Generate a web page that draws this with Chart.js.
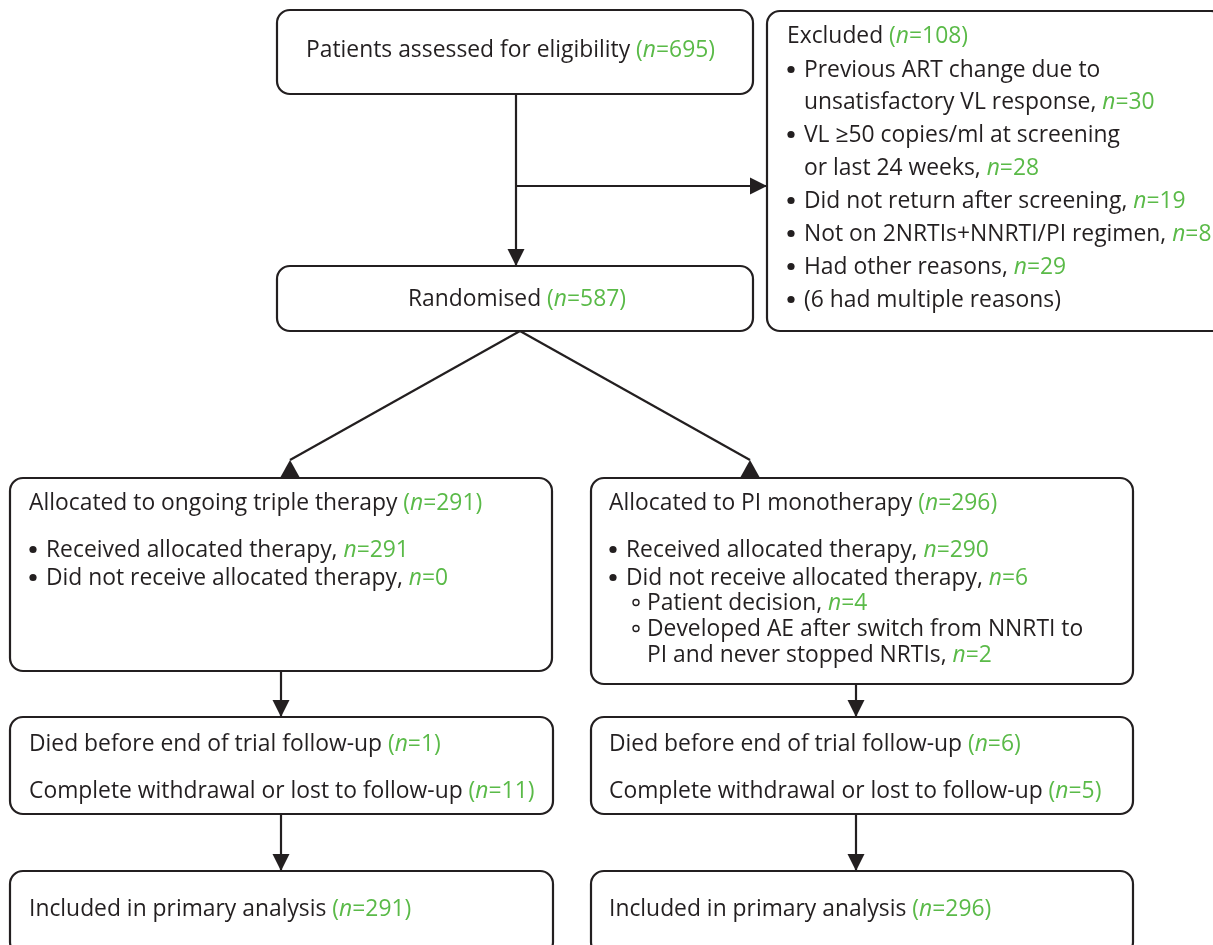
<!DOCTYPE html>
<html>
<head>
<meta charset="utf-8">
<script src="https://cdn.jsdelivr.net/npm/chart.js@4/dist/chart.umd.min.js"></script>
<style>
  html, body { margin: 0; padding: 0; background: #fff; }
  canvas { display: block; }
</style>
</head>
<body>
<canvas id="flow" width="1213" height="945"></canvas>
<script>
// box texts ("• " = bullet, "◦ " = sub bullet, "  " = continuation)
var eligibilityLines = ['Patients assessed for eligibility (n=695)'];
var excludedLines = [
	'Excluded (n=108)',
	'• Previous ART change due to',
	'  unsatisfactory VL response, n=30',
	'• VL \u226550 copies/ml at screening',
	'  or last 24 weeks, n=28',
	'• Did not return after screening, n=19',
	'• Not on 2NRTIs+NNRTI/PI regimen, n=8',
	'• Had other reasons, n=29',
	'• (6 had multiple reasons)'
];
var randomisedLines = ['Randomised (n=587)'];
var tripleLines = [
	'Allocated to ongoing triple therapy (n=291)',
	'• Received allocated therapy, n=291',
	'• Did not receive allocated therapy, n=0'
];
var monoLines = [
	'Allocated to PI monotherapy (n=296)',
	'• Received allocated therapy, n=290',
	'• Did not receive allocated therapy, n=6',
	'◦ Patient decision, n=4',
	'◦ Developed AE after switch from NNRTI to',
	'   PI and never stopped NRTIs, n=2'
];
var tripleFollowLines = ['Died before end of trial follow-up (n=1)', 'Complete withdrawal or lost to follow-up (n=11)'];
var monoFollowLines = ['Died before end of trial follow-up (n=6)', 'Complete withdrawal or lost to follow-up (n=5)'];
var tripleAnalysisLines = ['Included in primary analysis (n=291)'];
var monoAnalysisLines = ['Included in primary analysis (n=296)'];

// layout in chart units (x 0..1213, y 0..945 top down)
var boxes = [
	{ r: [277, 10, 753, 94], lines: eligibilityLines, x: 306, ys: [57] },
	{ r: [767, 11, 1224, 331], lines: excludedLines, x: 787, ys: [43, 77, 109, 142, 175, 208, 241, 274, 307] },
	{ r: [277, 266, 753, 331], lines: randomisedLines, x: 517, ys: [306], center: true },
	{ r: [10, 478, 552, 671], lines: tripleLines, x: 29, ys: [510, 557, 585] },
	{ r: [591, 478, 1133, 684], lines: monoLines, x: 609, ys: [510, 557, 585, 610, 636, 662] },
	{ r: [10, 717, 553, 814], lines: tripleFollowLines, x: 29, ys: [751, 798] },
	{ r: [591, 717, 1133, 814], lines: monoFollowLines, x: 609, ys: [751, 798] },
	{ r: [10, 871, 553, 955], lines: tripleAnalysisLines, x: 29, ys: [916] },
	{ r: [591, 871, 1133, 955], lines: monoAnalysisLines, x: 609, ys: [916] }
];
// arrows: [x0, y0, x1, y1, head style]
var arrows = [
	[516, 94, 516, 266, 'line'],
	[516, 186, 767, 186, 'line'],
	[520, 331, 290, 460, 'up'],
	[520, 331, 750, 460, 'up'],
	[281, 671, 281, 717, 'line'],
	[856, 684, 856, 717, 'line'],
	[281, 814, 281, 871, 'line'],
	[856, 814, 856, 871, 'line']
];

var INK = '#231f20';
var GREEN = '#5aba48';
var FONT = '"Open Sans", "Noto Sans", sans-serif';
var SIZE = 23;
var refText = 'Patients assessed for eligibility (n=695)';
var refWidth = 409;
var squeeze = 1;

function parts(str) {
	var m = str.match(/^(.*?)(\(?)n(=\d+)(\)?)$/);
	if (!m) return [[str, INK, false]];
	return [[m[1], INK, false], [m[2], GREEN, false], ['n', GREEN, true], [m[3] + m[4], GREEN, false]];
}

function setFont(ctx, italic) {
	ctx.font = (italic ? 'italic ' : '') + SIZE + 'px ' + FONT;
}

function richWidth(ctx, str) {
	var w = 0;
	parts(str).forEach(function(p) {
		setFont(ctx, p[2]);
		w += ctx.measureText(p[0]).width;
	});
	return w;
}

function drawRich(ctx, str, x, y, center) {
	var w = richWidth(ctx, str) * squeeze;
	if (center) x = x - w / 2;
	ctx.save();
	ctx.translate(x, y);
	ctx.scale(squeeze, 1);
	var cx = 0;
	parts(str).forEach(function(p) {
		setFont(ctx, p[2]);
		ctx.fillStyle = p[1];
		ctx.fillText(p[0], cx, 0);
		cx += ctx.measureText(p[0]).width;
	});
	ctx.restore();
}

function roundBox(ctx, x0, y0, x1, y1, rad) {
	ctx.beginPath();
	ctx.moveTo(x0 + rad, y0);
	ctx.lineTo(x1 - rad, y0);
	ctx.arcTo(x1, y0, x1, y0 + rad, rad);
	ctx.lineTo(x1, y1 - rad);
	ctx.arcTo(x1, y1, x1 - rad, y1, rad);
	ctx.lineTo(x0 + rad, y1);
	ctx.arcTo(x0, y1, x0, y1 - rad, rad);
	ctx.lineTo(x0, y0 + rad);
	ctx.arcTo(x0, y0, x0 + rad, y0, rad);
	ctx.closePath();
	ctx.stroke();
}

var flowPlugin = {
	id: 'flow',
	afterDraw: function(chart) {
		var ctx = chart.ctx;
		var xs = chart.scales.x, ys = chart.scales.y;
		var px = function(v) { return xs.getPixelForValue(v); };
		var py = function(v) { return ys.getPixelForValue(v); };

		setFont(ctx, false);
		squeeze = refWidth / richWidth(ctx, refText);

		ctx.save();
		ctx.strokeStyle = INK;
		ctx.fillStyle = INK;
		ctx.lineWidth = 2.2;

		// arrows
		arrows.forEach(function(a) {
			var x0 = px(a[0]), y0 = py(a[1]), x1 = px(a[2]), y1 = py(a[3]);
			ctx.beginPath();
			ctx.moveTo(x0, y0);
			ctx.lineTo(x1, y1);
			ctx.stroke();
			ctx.beginPath();
			if (a[4] == 'up') {
				// upright triangle sitting on the box
				ctx.moveTo(x1, y1);
				ctx.lineTo(x1 + 9.5, y1 + 17);
				ctx.lineTo(x1 - 9.5, y1 + 17);
			} else {
				var ang = Math.atan2(y1 - y0, x1 - x0);
				var len = 17, half = 8.5;
				var bx = x1 - Math.cos(ang) * len, by = y1 - Math.sin(ang) * len;
				ctx.moveTo(x1, y1);
				ctx.lineTo(bx - Math.sin(ang) * half, by + Math.cos(ang) * half);
				ctx.lineTo(bx + Math.sin(ang) * half, by - Math.cos(ang) * half);
			}
			ctx.closePath();
			ctx.fill();
		});

		// boxes and text
		boxes.forEach(function(b) {
			ctx.strokeStyle = INK;
			ctx.lineWidth = 2.2;
			roundBox(ctx, px(b.r[0]), py(b.r[1]), px(b.r[2]), py(b.r[3]), 13);
			ctx.textBaseline = 'alphabetic';
			b.lines.forEach(function(line, i) {
				var y = py(b.ys[i]);
				var x = px(b.x);
				var head = line.slice(0, 2);
				if (head == '• ') {
					ctx.beginPath();
					ctx.fillStyle = INK;
					ctx.arc(x + 4, y - 7.5, 3.6, 0, Math.PI * 2);
					ctx.fill();
					drawRich(ctx, line.slice(2), x + 17, y, false);
				} else if (head == '◦ ') {
					ctx.beginPath();
					ctx.lineWidth = 1.4;
					ctx.strokeStyle = INK;
					ctx.arc(x + 27, y - 7.5, 3, 0, Math.PI * 2);
					ctx.stroke();
					drawRich(ctx, line.slice(2), x + 38, y, false);
				} else if (line.slice(0, 3) == '   ') {
					drawRich(ctx, line.slice(3), x + 38, y, false);
				} else if (head == '  ') {
					drawRich(ctx, line.slice(2), x + 17, y, false);
				} else {
					drawRich(ctx, line, x, y, b.center);
				}
			});
		});
		ctx.restore();
	}
};

new Chart(document.getElementById('flow'), {
	type: 'scatter',
	data: { datasets: [{ data: [], pointRadius: 0 }] },
	options: {
		responsive: false,
		animation: false,
		events: [],
		layout: { padding: 0 },
		plugins: { legend: { display: false }, tooltip: { enabled: false } },
		scales: {
			x: { type: 'linear', min: 0, max: 1213, display: false },
			y: { type: 'linear', min: 0, max: 945, reverse: true, display: false }
		}
	},
	plugins: [flowPlugin]
});
</script>
</body>
</html>
